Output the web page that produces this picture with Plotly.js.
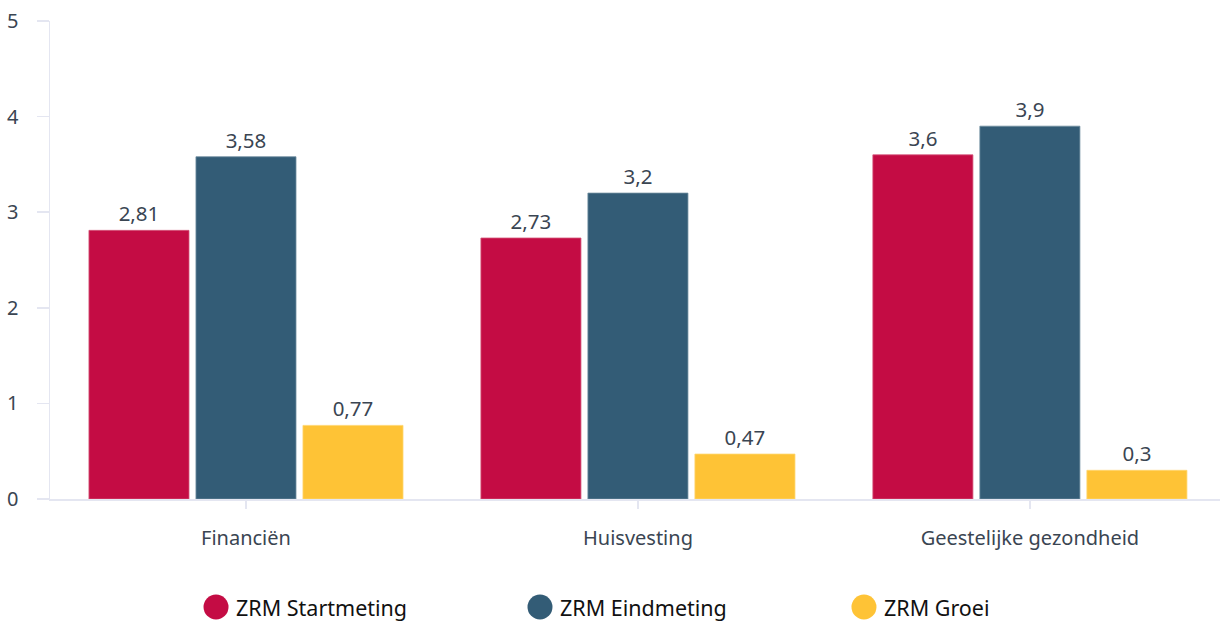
<!DOCTYPE html>
<html>
<head>
<meta charset="utf-8">
<script src="https://cdn.plot.ly/plotly-3.0.1.min.js"></script>
<style>html,body{margin:0;padding:0;background:#fff;}#chart{width:1220px;height:621px;}</style>
</head>
<body>
<div id="chart"></div>
<script>
const categories = ["Financiën", "Huisvesting", "Geestelijke gezondheid"];
const seriesNames = ["ZRM Startmeting", "ZRM Eindmeting", "ZRM Groei"];
const startValues = [2.81, 2.73, 3.6];
const endValues = [3.58, 3.2, 3.9];
const growthValues = [0.77, 0.47, 0.3];
const yTicks = [0, 1, 2, 3, 4, 5];
const colors = ["#c40c44", "#335c76", "#fec336"];
const lineColors = ["#d5557a", "#6f8ea0", "#ffd56f"];

const seriesValues = [startValues, endValues, growthValues];
const FONT = "'Noto Sans', 'Open Sans', sans-serif";

const traces = seriesValues.map((vals, i) => ({
  type: "bar",
  name: seriesNames[i],
  x: categories,
  y: vals,
  marker: { color: colors[i], line: { color: lineColors[i], width: 0.8 } },
  texttemplate: "%{y}",
  textposition: "outside",
  textfont: { family: FONT, size: 20.5, color: "#3a4552" },
  cliponaxis: false,
  showlegend: false,
  hoverinfo: "x+y+name"
}));

// custom legend with large circles
const shapes = [];
const annotations = [];
const legX0 = 0.1419, legStep = 0.2769, legY = -0.226;
seriesNames.forEach((n, i) => {
  const cx = legX0 + i * legStep;
  shapes.push({
    type: "circle", xref: "paper", yref: "paper",
    xsizemode: "pixel", ysizemode: "pixel",
    xanchor: cx, yanchor: legY,
    x0: -12.5, x1: 12.5, y0: -12.5, y1: 12.5,
    fillcolor: colors[i], line: { width: 0 }
  });
  annotations.push({
    xref: "paper", yref: "paper", x: cx, y: legY, xshift: 18,
    xanchor: "left", yanchor: "middle", showarrow: false,
    text: n, font: { family: FONT, size: 21.5, color: "#111" }
  });
});

const layout = {
  width: 1220, height: 621,
  margin: { l: 50, r: 0, t: 21, b: 122 },
  paper_bgcolor: "#fff", plot_bgcolor: "#fff",
  separators: ", ",
  barmode: "group",
  bargap: 0.181,
  bargroupgap: 0.065,
  font: { family: FONT },
  xaxis: {
    type: "category",
    range: [-0.5, 2.485],
    showline: true, linecolor: "#e4e6f1", linewidth: 1.5,
    ticks: "outside", ticklen: 8, tickcolor: "#e4e6f1", tickwidth: 1.5,
    tickfont: { family: FONT, size: 20, color: "#3a4552" },
    ticklabelstandoff: 12,
    showgrid: false, zeroline: false, fixedrange: true
  },
  yaxis: {
    range: [0, 5],
    tickvals: yTicks,
    ticktext: yTicks.map(String),
    showline: true, linecolor: "#e4e6f1", linewidth: 1.5,
    ticks: "outside", ticklen: 12, tickcolor: "#e4e6f1", tickwidth: 1.5,
    tickfont: { family: FONT, size: 20, color: "#3a4552" },
    ticklabelstandoff: 14,
    showgrid: false, zeroline: false, fixedrange: true
  },
  shapes: shapes,
  annotations: annotations,
  showlegend: false
};

Plotly.newPlot("chart", traces, layout, { displayModeBar: false, staticPlot: true });
</script>
</body>
</html>
